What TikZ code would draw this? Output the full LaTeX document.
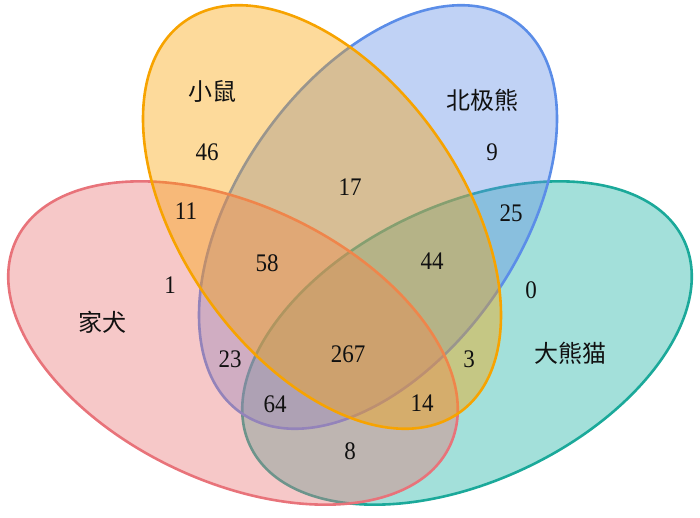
\documentclass[tikz,border=0pt]{standalone}
\usepackage{fontspec}
\setmainfont{Liberation Serif}
\newfontfamily\cjk{Noto Sans CJK SC}
\usetikzlibrary{positioning}
\definecolor{dogline}{HTML}{E8737A}
\definecolor{dogfill}{HTML}{E87575}
\definecolor{mouseline}{HTML}{F7A300}
\definecolor{mousefill}{HTML}{FAA205}
\definecolor{polarline}{HTML}{5B8DE8}
\definecolor{polarfill}{HTML}{618EE6}
\definecolor{pandaline}{HTML}{1BA99A}
\definecolor{pandafill}{HTML}{19B2A2}
\definecolor{ink}{HTML}{111111}
\tikzset{
  setel/.style={line width=2.6pt, fill opacity=0.4},
  num/.style={font=\fontsize{23pt}{25pt}\selectfont, text=ink, inner sep=0pt,
    yscale=1.1, transform shape},
  lbl/.style={font=\cjk\fontsize{24pt}{26pt}\selectfont, text=ink, inner sep=0pt},
}

\begin{document}
\begin{tikzpicture}[x=1pt, y=-1pt]
    \useasboundingbox (0,0) rectangle (700,518);
    % the four sets, back to front
    \draw[setel, draw=pandaline, fill=pandafill, rotate around={25.4:(467,343)}]
      (467,343) ellipse [x radius=240pt, y radius=138pt];
    \draw[setel, draw=polarline, fill=polarfill, rotate around={55:(378,217)}]
      (378,217) ellipse [x radius=239pt, y radius=140.5pt];
    \draw[setel, draw=dogline, fill=dogfill, rotate around={-25.4:(233,343)}]
      (233,343) ellipse [x radius=240pt, y radius=138pt];
    \draw[setel, draw=mouseline, fill=mousefill, rotate around={-55:(322,217)}]
      (322,217) ellipse [x radius=239pt, y radius=140.5pt];
    % set names
    \node[lbl] (mouse) at (212,91) {小鼠};
    \node[lbl] (polar) at (482,100) {北极熊};
    \node[lbl] (dog) at (102,322) {家犬};
    \node[lbl] (panda) at (570,353) {大熊猫};
    % counts
    \node[num] (m) at (207,152) {46};
    \node[num] (p) at (492,152) {9};
    \node[num] (mp) at (350,187) {17};
    \node[num] (dm) at (186,211) {11};
    \node[num] (pa) at (511,213) {25};
    \node[num] (dmp) at (267,263) {58};
    \node[num] (mpa) at (432,261) {44};
    \node[num] (d) at (170,285) {1};
    \node[num] (a) at (531,290) {0};
    \node[num] (dp) at (230,359) {23};
    \node[num] (all) at (348,354) {267};
    \node[num] (ma) at (469,359) {3};
    \node[num] (dpa) at (275,404) {64};
    \node[num] (dma) at (422,403) {14};
    \node[num] (da) at (350,451) {8};
\end{tikzpicture}
\end{document}
